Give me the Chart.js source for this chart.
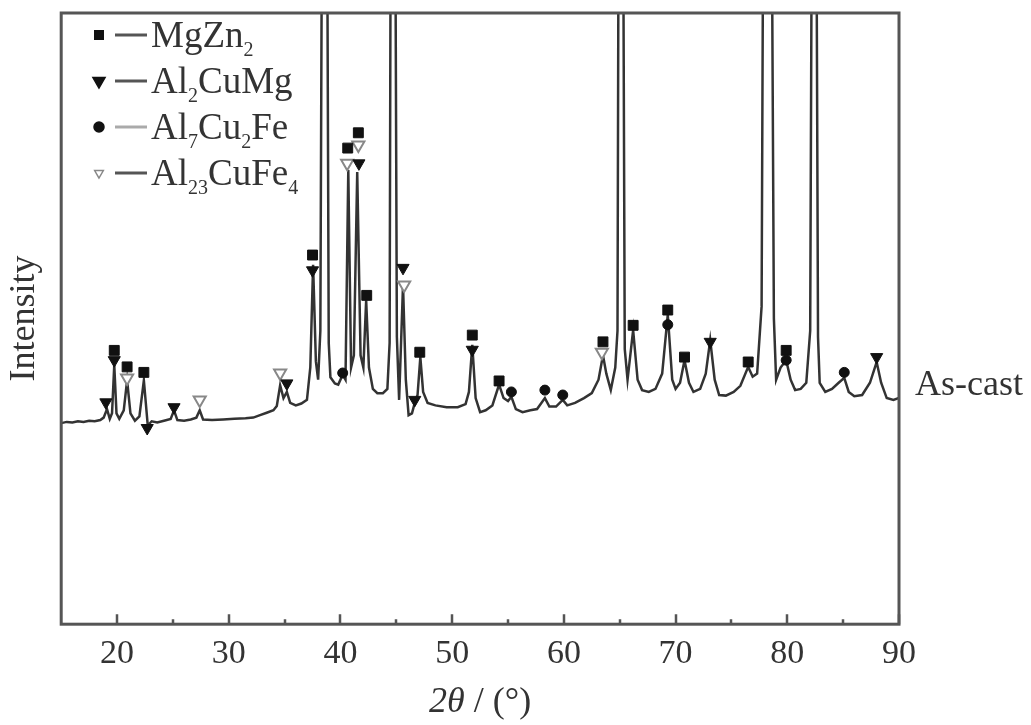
<!DOCTYPE html>
<html>
<head>
<meta charset="utf-8">
<title>XRD As-cast</title>
<script src="https://cdn.jsdelivr.net/npm/chart.js@4/dist/chart.umd.min.js"></script>
<style>
  html, body { margin: 0; padding: 0; background: #fff; }
</style>
</head>
<body>
<canvas id="myChart" width="1031" height="725"></canvas>
<script>
// XRD pattern (2theta in degrees, intensity in arbitrary units)
const twoTheta = [
  15.0, 15.5, 16.0, 16.5, 17.0, 17.5, 18.0, 18.5, 18.8, 19.1, 19.35, 19.55, 19.75, 19.95,
  20.2, 20.6, 20.9, 21.2, 21.6, 22.0, 22.4, 22.75, 23.1, 23.6, 24.2, 24.8, 25.1, 25.4,
  26.0, 26.6, 27.1, 27.4, 27.7, 28.5, 29.5, 30.5, 31.5, 32.2, 32.8, 33.4, 34.0, 34.3,
  34.6, 34.9, 35.2, 35.5, 36.0, 36.5, 37.0, 37.3, 37.55, 37.8, 38.0, 38.2, 38.35, 38.8, 38.95,
  39.1, 39.5, 39.8, 40.2, 40.45, 40.7, 40.95, 41.2, 41.5, 41.8, 42.05, 42.3, 42.55, 42.9,
  43.3, 43.8, 44.2, 44.4, 44.5, 44.9, 45.05, 45.25, 45.6, 45.85, 46.1, 46.4, 46.65, 46.9, 47.15,
  47.4, 47.8, 48.5, 49.5, 50.5, 51.2, 51.5, 51.8, 52.1, 52.5, 53.0, 53.6, 54.2, 54.6,
  55.0, 55.3, 55.7, 56.3, 57.0, 57.6, 58.3, 58.7, 59.3, 59.9, 60.3, 61.0, 61.8, 62.5,
  63.1, 63.5, 63.8, 64.2, 64.6, 64.8, 64.9, 65.3, 65.45, 65.7, 66.2, 66.6, 67.0, 67.6, 68.2,
  68.8, 69.3, 69.7, 70.0, 70.4, 70.8, 71.2, 71.6, 72.2, 72.7, 73.1, 73.5, 73.9, 74.5,
  75.2, 75.8, 76.5, 76.9, 77.3, 77.7, 77.85, 78.6, 78.8, 79.0, 79.4, 79.9, 80.3,
  80.7, 81.2, 81.7, 82.05, 82.2, 82.6, 82.75, 82.9, 83.4, 84.0, 84.6, 85.1, 85.5, 86.0, 86.7,
  87.4, 88.0, 88.4, 88.9, 89.5, 90.0
];
const intensity = [
  329, 331, 330, 332, 331, 333, 332, 334, 338, 352, 336, 345, 424, 345,
  336, 350, 399, 345, 333, 340, 399, 325, 332, 330, 333, 336, 350, 334,
  333, 335, 338, 350, 335, 334, 335, 336, 337, 338, 342, 346, 350, 357,
  391, 370, 380, 362, 358, 361, 367, 420, 588, 430, 400, 480, 1200, 1200, 460,
  404, 394, 392, 408, 400, 743, 420, 440, 740, 440, 420, 530, 420, 385,
  378, 378, 385, 460, 1200, 1200, 470, 367, 555, 400, 342, 345, 362, 375, 437,
  380, 362, 358, 355, 355, 360, 380, 457, 370, 347, 350, 358, 392, 370,
  365, 372, 352, 347, 350, 352, 370, 356, 356, 367, 358, 362, 370, 378,
  400, 440, 410, 383, 420, 480, 1200, 1200, 450, 400, 481, 400, 383, 380, 385,
  410, 506, 400, 385, 395, 432, 395, 380, 385, 410, 465, 400, 375, 374,
  380, 390, 421, 405, 410, 520, 1200, 1200, 500, 400, 420, 432, 400,
  383, 385, 395, 480, 1200, 1200, 470, 395, 380, 385, 395, 403, 380, 373, 375,
  395, 429, 395, 370, 367, 370
];

// phase markers
const phaseNames = ['MgZn2', 'Al2CuMg', 'Al7Cu2Fe', 'Al23CuFe4'];
const mgzn2X = [19.75, 20.9, 22.4, 37.5, 40.65, 41.6, 42.35, 47.1, 51.8, 54.2, 63.5, 66.2, 69.3, 70.8, 76.5, 79.9];
const mgzn2Y = [448, 421, 412, 604, 779, 804, 538, 445, 473, 398, 462, 489, 514, 437, 429, 448];
const al2cumgX = [19.0, 19.75, 22.7, 25.1, 35.2, 37.5, 41.65, 45.6, 46.65, 51.8, 73.1, 88.0];
const al2cumgY = [363, 432, 321, 355, 394, 579, 754, 583, 367, 449, 462, 437];
const al7cu2feX = [40.2, 55.3, 58.3, 59.9, 69.3, 79.9, 85.1];
const al7cu2feY = [411, 380, 383, 375, 490, 432, 412];
const al23cufe4X = [20.9, 27.4, 34.6, 40.6, 41.6, 45.7, 63.4];
const al23cufe4Y = [403, 367, 411, 754, 784, 555, 445];

const xTicks = [20, 30, 40, 50, 60, 70, 80, 90];
const xMinorTicks = [25, 35, 45, 55, 65, 75, 85];

const serif = "'Liberation Serif', 'Times New Roman', serif";
const textColor = '#333';

function pts(xs, ys) {
  return xs.map((x, i) => ({ x: x, y: ys[i] }));
}

function drawFormula(ctx, text, x, y, size) {
  // digits are written as subscripts
  let cx = x;
  for (const ch of text) {
    if (/[0-9]/.test(ch)) {
      ctx.font = Math.round(size * 0.55) + 'px ' + serif;
      ctx.fillText(ch, cx, y + size * 0.24);
    } else {
      ctx.font = size + 'px ' + serif;
      ctx.fillText(ch, cx, y);
    }
    cx += ctx.measureText(ch).width;
  }
}

const decorations = {
  id: 'decorations',
  afterDraw(chart) {
    const ctx = chart.ctx;
    const a = chart.chartArea;
    const x = chart.scales.x;
    ctx.save();

    // frame
    ctx.strokeStyle = '#555';
    ctx.lineWidth = 3;
    ctx.strokeRect(a.left, a.top, a.right - a.left, a.bottom - a.top);

    // inward ticks on the bottom axis
    ctx.lineWidth = 2.5;
    ctx.beginPath();
    xTicks.forEach(v => {
      const px = Math.round(x.getPixelForValue(v));
      ctx.moveTo(px, a.bottom);
      ctx.lineTo(px, a.bottom - 10);
    });
    xMinorTicks.forEach(v => {
      const px = Math.round(x.getPixelForValue(v));
      ctx.moveTo(px, a.bottom);
      ctx.lineTo(px, a.bottom - 5);
    });
    ctx.stroke();

    // x axis title, 2θ in italic
    ctx.fillStyle = textColor;
    ctx.textBaseline = 'middle';
    ctx.textAlign = 'left';
    const t1 = '2θ', t2 = ' / (°)';
    ctx.font = 'italic 36px ' + serif;
    const w1 = ctx.measureText(t1).width;
    ctx.font = '36px ' + serif;
    const w2 = ctx.measureText(t2).width;
    const tx = (a.left + a.right) / 2 - (w1 + w2) / 2;
    ctx.font = 'italic 36px ' + serif;
    ctx.fillText(t1, tx, 703);
    ctx.font = '36px ' + serif;
    ctx.fillText(t2, tx + w1, 703);

    // sample label
    ctx.fillText('As-cast', a.right + 16, 386);

    // legend
    ctx.textBaseline = 'alphabetic';
    const rowY = [35, 81, 127, 173];
    chart.data.datasets.forEach((ds) => {
      if (!ds.phase) return;
      const y = rowY[phaseNames.indexOf(ds.label)];
      ctx.save();
      ctx.fillStyle = ds.backgroundColor;
      ctx.strokeStyle = ds.borderColor;
      ctx.lineWidth = 1.5;
      Chart.helpers.drawPoint(ctx, {
        pointStyle: ds.pointStyle,
        rotation: ds.rotation || 0,
        radius: ds.legendRadius,
        borderWidth: 1.5
      }, 99, y);
      ctx.restore();
      ctx.strokeStyle = ds.legendDash;
      ctx.lineWidth = 3;
      ctx.beginPath();
      ctx.moveTo(115, y);
      ctx.lineTo(147, y);
      ctx.stroke();
      ctx.fillStyle = textColor;
      drawFormula(ctx, ds.label, 151, y + 12, 37);
    });

    ctx.restore();
  }
};

const ctx = document.getElementById('myChart');

new Chart(ctx, {
  type: 'line',
  data: {
    datasets: [
      {
        label: 'As-cast',
        data: pts(twoTheta, intensity),
        borderColor: '#333',
        borderWidth: 2.5,
        pointRadius: 0,
        tension: 0,
        order: 5
      },
      {
        label: phaseNames[0], phase: true,
        data: pts(mgzn2X, mgzn2Y),
        showLine: false, pointStyle: 'rect', pointRadius: 7, legendRadius: 6,
        backgroundColor: '#111', borderColor: '#111', borderWidth: 1,
        legendDash: '#555', order: 1
      },
      {
        label: phaseNames[1], phase: true,
        data: pts(al2cumgX, al2cumgY),
        showLine: false, pointStyle: 'triangle', rotation: 180, pointRotation: 180,
        pointRadius: 7, legendRadius: 7,
        backgroundColor: '#111', borderColor: '#111', borderWidth: 1,
        legendDash: '#555', order: 2
      },
      {
        label: phaseNames[2], phase: true,
        data: pts(al7cu2feX, al7cu2feY),
        showLine: false, pointStyle: 'circle', pointRadius: 5, legendRadius: 5,
        backgroundColor: '#111', borderColor: '#111', borderWidth: 1,
        legendDash: '#aaa', order: 3
      },
      {
        label: phaseNames[3], phase: true,
        data: pts(al23cufe4X, al23cufe4Y),
        showLine: false, pointStyle: 'triangle', rotation: 180, pointRotation: 180,
        pointRadius: 7, legendRadius: 5,
        backgroundColor: '#fff', borderColor: '#888', borderWidth: 2,
        legendDash: '#555', order: 4
      }
    ]
  },
  options: {
    responsive: false,
    animation: false,
    layout: { padding: { left: 0, top: 13, right: 132, bottom: 42 } },
    plugins: {
      legend: { display: false },
      tooltip: { enabled: false }
    },
    scales: {
      x: {
        type: 'linear',
        min: 15,
        max: 90,
        afterBuildTicks: (scale) => { scale.ticks = xTicks.map(v => ({ value: v })); },
        grid: { display: false, drawTicks: false },
        border: { display: false },
        ticks: {
          padding: 9,
          color: textColor,
          font: { family: serif, size: 34 }
        }
      },
      y: {
        min: 0,
        max: 1000,
        grid: { display: false, drawTicks: false },
        border: { display: false },
        ticks: { display: false },
        title: {
          display: true,
          text: 'Intensity',
          color: textColor,
          font: { family: serif, size: 36 },
          padding: { top: 3, bottom: 15 }
        }
      }
    }
  },
  plugins: [decorations]
});
</script>
</body>
</html>
